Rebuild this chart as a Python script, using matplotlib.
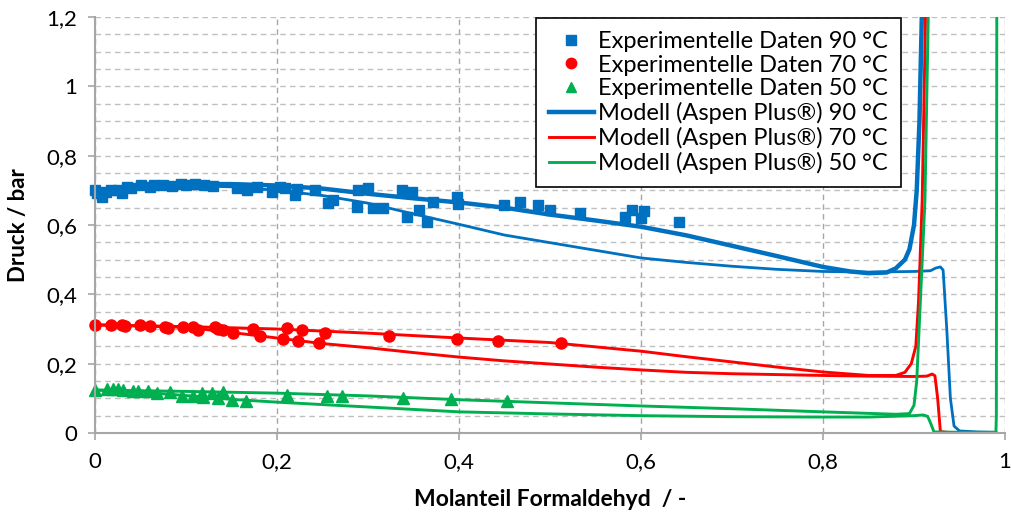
import matplotlib
matplotlib.use("Agg")
import matplotlib.pyplot as plt
from matplotlib.ticker import MultipleLocator, FuncFormatter
from matplotlib.lines import Line2D

plt.rcParams['font.family'] = ['Lato', 'DejaVu Sans']

# Experimental data (mole fraction formaldehyde, pressure in bar)
x_exp_90 = [0.0, 0.002, 0.008, 0.012, 0.018, 0.025, 0.03, 0.035, 0.04, 0.05, 0.06, 0.065,
            0.075, 0.085, 0.095, 0.1, 0.11, 0.12, 0.13, 0.156, 0.167, 0.178, 0.195, 0.203,
            0.209, 0.22, 0.222, 0.242, 0.256, 0.262, 0.288, 0.289, 0.30, 0.305, 0.316,
            0.337, 0.343, 0.348, 0.356, 0.365, 0.371, 0.398, 0.399, 0.45, 0.467, 0.487,
            0.50, 0.533, 0.582, 0.59, 0.60, 0.603, 0.642]
y_exp_90 = [0.70, 0.692, 0.68, 0.695, 0.70, 0.70, 0.692, 0.71, 0.707, 0.715, 0.71, 0.715,
            0.715, 0.712, 0.718, 0.715, 0.718, 0.716, 0.712, 0.707, 0.70, 0.71, 0.695, 0.71,
            0.707, 0.686, 0.705, 0.70, 0.663, 0.672, 0.652, 0.70, 0.707, 0.649, 0.65,
            0.70, 0.623, 0.695, 0.643, 0.609, 0.666, 0.68, 0.66, 0.658, 0.666, 0.658,
            0.643, 0.634, 0.623, 0.643, 0.62, 0.64, 0.609]

x_exp_70 = [0.0, 0.018, 0.03, 0.033, 0.049, 0.06, 0.077, 0.08, 0.097, 0.108, 0.113, 0.132,
            0.135, 0.141, 0.152, 0.174, 0.181, 0.207, 0.211, 0.223, 0.227, 0.246, 0.253,
            0.323, 0.398, 0.443, 0.512]
y_exp_70 = [0.312, 0.312, 0.312, 0.31, 0.312, 0.31, 0.306, 0.302, 0.306, 0.306, 0.297, 0.306,
            0.30, 0.297, 0.288, 0.30, 0.28, 0.271, 0.303, 0.265, 0.297, 0.259, 0.288,
            0.28, 0.271, 0.265, 0.26]

x_exp_50 = [0.0, 0.013, 0.02, 0.025, 0.031, 0.042, 0.047, 0.058, 0.068, 0.082, 0.096, 0.108,
            0.118, 0.119, 0.129, 0.135, 0.141, 0.151, 0.166, 0.211, 0.255, 0.271, 0.339,
            0.391, 0.453]
y_exp_50 = [0.124, 0.127, 0.126, 0.126, 0.125, 0.121, 0.12, 0.12, 0.115, 0.118, 0.107, 0.107,
            0.115, 0.104, 0.115, 0.10, 0.118, 0.095, 0.092, 0.11, 0.107, 0.107, 0.101,
            0.098, 0.092]

# Aspen Plus model, 90 °C: branch running off the top near x = 0.9
x_mod_90a = [0.0, 0.02, 0.05, 0.1, 0.15, 0.2, 0.25, 0.3, 0.35, 0.4, 0.45, 0.5, 0.55, 0.6,
             0.65, 0.7, 0.75, 0.8, 0.83, 0.85, 0.87, 0.88, 0.89, 0.895, 0.9, 0.903, 0.906, 0.909]
y_mod_90a = [0.70, 0.705, 0.712, 0.718, 0.718, 0.714, 0.705, 0.69, 0.677, 0.665, 0.65, 0.63,
             0.613, 0.595, 0.57, 0.54, 0.51, 0.479, 0.466, 0.461, 0.463, 0.475, 0.50, 0.53,
             0.60, 0.70, 0.90, 1.25]
# 90 °C: second branch dropping to zero pressure near x = 0.94
x_mod_90b = [0.0, 0.05, 0.1, 0.15, 0.2, 0.25, 0.3, 0.35, 0.4, 0.45, 0.5, 0.55, 0.6, 0.65,
             0.7, 0.75, 0.8, 0.85, 0.9, 0.918, 0.924, 0.929, 0.932, 0.936, 0.94, 0.944, 0.95,
             0.97, 0.99]
y_mod_90b = [0.70, 0.71, 0.714, 0.71, 0.70, 0.685, 0.663, 0.632, 0.602, 0.571, 0.549, 0.527,
             0.505, 0.492, 0.481, 0.472, 0.466, 0.464, 0.466, 0.468, 0.476, 0.479, 0.47, 0.30,
             0.10, 0.02, 0.006, 0.003, 0.002]

x_mod_70a = [0.0, 0.1, 0.2, 0.3, 0.4, 0.5, 0.6, 0.65, 0.7, 0.75, 0.8, 0.85, 0.88, 0.89,
             0.897, 0.902, 0.905, 0.909, 0.913]
y_mod_70a = [0.312, 0.307, 0.30, 0.288, 0.274, 0.261, 0.236, 0.22, 0.205, 0.19, 0.176, 0.166,
             0.166, 0.175, 0.20, 0.25, 0.38, 0.67, 1.25]
x_mod_70b = [0.0, 0.1, 0.15, 0.2, 0.25, 0.3, 0.35, 0.4, 0.45, 0.5, 0.55, 0.6, 0.65, 0.7,
             0.8, 0.85, 0.9, 0.914, 0.92, 0.923, 0.926, 0.929, 0.94, 0.99]
y_mod_70b = [0.312, 0.305, 0.29, 0.274, 0.258, 0.246, 0.232, 0.219, 0.208, 0.199, 0.19,
             0.182, 0.175, 0.171, 0.166, 0.164, 0.163, 0.164, 0.17, 0.165, 0.10, 0.004,
             0.001, 0.0]

x_mod_50a = [0.0, 0.1, 0.2, 0.3, 0.4, 0.5, 0.6, 0.7, 0.8, 0.88, 0.895, 0.9, 0.903, 0.907,
             0.912, 0.916]
y_mod_50a = [0.124, 0.12, 0.115, 0.107, 0.096, 0.087, 0.078, 0.07, 0.061, 0.054, 0.056,
             0.08, 0.15, 0.38, 0.67, 1.25]
x_mod_50b = [0.0, 0.05, 0.1, 0.15, 0.2, 0.3, 0.4, 0.5, 0.6, 0.7, 0.8, 0.85, 0.9, 0.91,
             0.915, 0.918, 0.922, 0.95, 0.99, 0.9905, 0.991]
y_mod_50b = [0.124, 0.118, 0.108, 0.097, 0.089, 0.075, 0.061, 0.055, 0.05, 0.047, 0.046,
             0.046, 0.05, 0.052, 0.048, 0.03, 0.003, 0.002, 0.002, 0.05, 1.25]

blue = '#0070C0'
red = '#FF0000'
green = '#00B050'

fig = plt.figure(figsize=(10.12, 5.15), dpi=100)
ax = fig.add_axes([95 / 1012, 82 / 515, 910 / 1012, 416 / 515])

ax.set_xlim(0, 1)
ax.set_ylim(0, 1.2)

# Grid: dashed verticals at major ticks, dashed horizontals every 0.05
ax.xaxis.set_major_locator(MultipleLocator(0.2))
ax.yaxis.set_major_locator(MultipleLocator(0.2))
ax.yaxis.set_minor_locator(MultipleLocator(0.05))
ax.grid(True, axis='x', which='major', color='#A6A6A6', linestyle=(0, (4, 3)), linewidth=1.0)
ax.grid(True, axis='y', which='both', color='#BFBFBF', linestyle=(0, (4, 3)), linewidth=1.0)
ax.set_axisbelow(True)

for side in ('top', 'right'):
    ax.spines[side].set_visible(False)
for side in ('left', 'bottom'):
    ax.spines[side].set_color('#A6A6A6')
    ax.spines[side].set_linewidth(1.5)

ax.tick_params(axis='both', which='major', direction='out', length=5, width=1.2,
               color='#A6A6A6', labelsize=16, labelcolor='black')
ax.tick_params(axis='y', which='minor', length=0)
ax.tick_params(axis='y', pad=8)
ax.tick_params(axis='x', pad=9)


def comma_fmt(v, pos):
    s = f"{v:.1f}".rstrip('0').rstrip('.')
    return s.replace('.', ',')


ax.xaxis.set_major_formatter(FuncFormatter(comma_fmt))
ax.yaxis.set_major_formatter(FuncFormatter(comma_fmt))

# Model curves
ax.plot(x_mod_90b, y_mod_90b, color=blue, lw=2.0, solid_joinstyle='round')
ax.plot(x_mod_90a, y_mod_90a, color=blue, lw=3.2, solid_joinstyle='round')
ax.plot(x_mod_70a, y_mod_70a, color=red, lw=2.1, solid_joinstyle='round')
ax.plot(x_mod_70b, y_mod_70b, color=red, lw=2.1, solid_joinstyle='round')
ax.plot(x_mod_50a, y_mod_50a, color=green, lw=2.1, solid_joinstyle='round')
ax.plot(x_mod_50b, y_mod_50b, color=green, lw=2.1, solid_joinstyle='round')

# Experimental points
ax.plot(x_exp_90, y_exp_90, linestyle='none', marker='s', ms=7.5, color=blue, clip_on=False)
ax.plot(x_exp_70, y_exp_70, linestyle='none', marker='o', ms=8, color=red, clip_on=False)
ax.plot(x_exp_50, y_exp_50, linestyle='none', marker='^', ms=8, color=green, clip_on=False)

# Legend
handles = [
    Line2D([], [], linestyle='none', marker='s', ms=7, color=blue),
    Line2D([], [], linestyle='none', marker='o', ms=7.5, color=red),
    Line2D([], [], linestyle='none', marker='^', ms=7.5, color=green),
    Line2D([], [], color=blue, lw=3.2),
    Line2D([], [], color=red, lw=2.1),
    Line2D([], [], color=green, lw=2.1),
]
labels = [
    'Experimentelle Daten 90 °C',
    'Experimentelle Daten 70 °C',
    'Experimentelle Daten 50 °C',
    'Modell (Aspen Plus®) 90 °C',
    'Modell (Aspen Plus®) 70 °C',
    'Modell (Aspen Plus®) 50 °C',
]
leg = ax.legend(handles, labels, loc='upper right', bbox_to_anchor=(0.886, 0.998),
                fontsize=17, frameon=True, fancybox=False, edgecolor='black',
                framealpha=1.0, borderpad=0.55, labelspacing=0.12, handlelength=1.9,
                handletextpad=0.2, borderaxespad=0.0)
leg.get_frame().set_linewidth(1.2)

ax.set_xlabel('Molanteil Formaldehyd  / -', fontsize=16.5, fontweight='bold', labelpad=12)
ax.set_ylabel('Druck / bar', fontsize=16, fontweight='bold', labelpad=12)

fig.savefig('out.png', dpi=100)
